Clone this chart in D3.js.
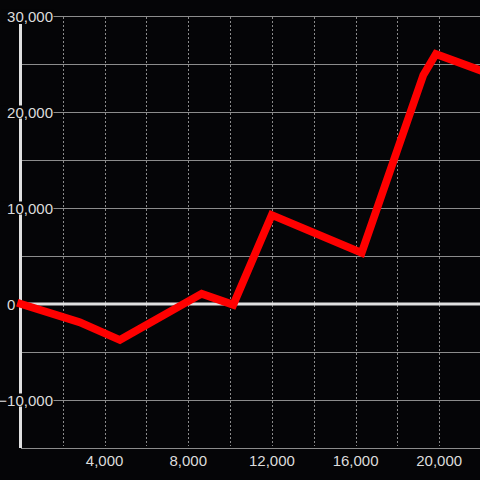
<!DOCTYPE html>
<html>
<head>
<meta charset="utf-8">
<script src="https://cdn.jsdelivr.net/npm/d3@7"></script>
<style>
  html, body { margin: 0; padding: 0; background: #050507; }
  svg { display: block; }
  text { font-family: "Liberation Sans", Arial, sans-serif; }
</style>
</head>
<body>
<svg id="chart" width="480" height="480"></svg>
<script>
// Data
const xValues = [0, 2800, 4730, 8640, 10150, 11990, 16290, 19240, 19840, 21950];
const yValues = [0, -1900, -3750, 1070, -80, 9270, 5340, 23850, 26040, 24350];
const xGridTicks = [2000, 4000, 6000, 8000, 10000, 12000, 14000, 16000, 18000, 20000];
const xLabelTicks = [4000, 8000, 12000, 16000, 20000];
const yGridTicks = [30000, 25000, 20000, 15000, 10000, 5000, -5000, -10000, -15000];
const yLabelTicks = [30000, 20000, 10000, 0, -10000];

const W = 480, H = 480;
const svg = d3.select("#chart");
svg.append("rect").attr("width", W).attr("height", H).attr("fill", "#050507");

const x = d3.scaleLinear().domain([0, 21950]).range([21, 480]);
const y = d3.scaleLinear().domain([-15000, 30000]).range([448, 16]);
const fmt = d3.format(",");

// vertical dashed grid
svg.append("g").selectAll("line").data(xGridTicks).join("line")
  .attr("x1", d => Math.round(x(d)) + 0.5).attr("x2", d => Math.round(x(d)) + 0.5)
  .attr("y1", 17).attr("y2", 446)
  .attr("stroke", "#8a8a8a").attr("stroke-width", 1)
  .attr("stroke-dasharray", "2,2");

// horizontal grid
svg.append("g").selectAll("line").data(yGridTicks).join("line")
  .attr("x1", 21).attr("x2", W)
  .attr("y1", d => Math.round(y(d)) + 0.5).attr("y2", d => Math.round(y(d)) + 0.5)
  .attr("stroke", "#8c8c8c").attr("stroke-width", 1);

// zero line
svg.append("line")
  .attr("x1", 21).attr("x2", W).attr("y1", y(0)).attr("y2", y(0))
  .attr("stroke", "#e0e0e0").attr("stroke-width", 3);

// y axis line
svg.append("line")
  .attr("x1", 20.5).attr("x2", 20.5).attr("y1", 24).attr("y2", 448)
  .attr("stroke", "#e0e0e0").attr("stroke-width", 3);

// y labels with background
const yl = svg.append("g").selectAll("g").data(yLabelTicks).join("g");
yl.append("rect")
  .attr("x", d => d === 0 ? 7 : 1).attr("y", d => y(d) - 6.5)
  .attr("width", d => d === 0 ? 10 : 52.5).attr("height", 13)
  .attr("fill", d => d === 0 ? "none" : "#050507");
yl.append("text")
  .attr("x", d => d === 0 ? 7 : 53)
  .attr("y", d => y(d) + 5.8)
  .attr("text-anchor", d => d === 0 ? "start" : "end")
  .attr("font-size", 15)
  .attr("fill", "#dcdcdc")
  .text(d => fmt(d));

// x labels
svg.append("g").selectAll("text").data(xLabelTicks).join("text")
  .attr("x", d => x(d)).attr("y", 466)
  .attr("text-anchor", "middle")
  .attr("font-size", 15)
  .attr("fill", "#dcdcdc")
  .text(d => fmt(d));

// data line
const pts = xValues.map((v, i) => [v, yValues[i]]);
const line = d3.line().x(d => x(d[0])).y(d => y(d[1]));
svg.append("path").datum(pts)
  .attr("d", line)
  .attr("fill", "none")
  .attr("stroke", "#ff0000")
  .attr("stroke-width", 7.8)
  .attr("stroke-linecap", "square")
  .attr("stroke-linejoin", "miter");
</script>
</body>
</html>
